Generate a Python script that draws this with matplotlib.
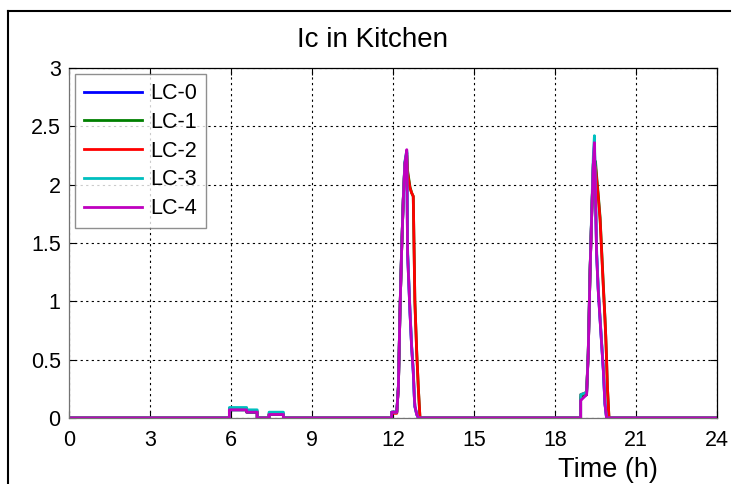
import numpy as np
import matplotlib.pyplot as plt
from matplotlib.lines import Line2D

plt.rcParams['font.family'] = ['Liberation Sans', 'DejaVu Sans']

# Tiempo (h) - puntos de quiebre comunes a todas las series
t = [0, 5.94, 5.94, 6.58, 6.58, 6.97, 6.97, 7.41, 7.41, 7.94, 7.94,
     11.95, 11.95, 12.14, 12.2, 12.26, 12.32, 12.38, 12.44, 12.51, 12.54,
     12.63, 12.69, 12.75, 12.79, 12.81, 12.88, 12.94, 13.0,
     18.95, 18.95, 19.17, 19.23, 19.3, 19.36, 19.42, 19.46, 19.5, 19.54,
     19.6, 19.67, 19.79, 19.85, 19.88, 19.91, 19.94, 20.0, 24]

lc0 = [0, 0, .07, .07, .05, .05, 0, 0, .03, .03, 0,
       0, .05, .05, .27, .93, 1.44, 1.87, 2.18, 2.28, 1.41,
       .9, .61, .4, .18, .1, .03, 0, 0,
       0, .17, .2, .55, 1.27, 1.75, 2.18, 2.33, 1.9, 1.41,
       1.1, .84, .41, .12, .06, 0, 0, 0, 0]
lc1 = [0, 0, .07, .07, .05, .05, 0, 0, .03, .03, 0,
       0, .05, .05, .27, .93, 1.44, 1.87, 2.18, 2.27, 2.12,
       1.98, 1.93, 1.9, 1.32, 1.0, .56, .25, 0,
       0, .18, .2, .55, 1.27, 1.75, 2.18, 2.2, 2.2, 2.08,
       1.92, 1.72, 1.14, .86, .7, .5, .27, 0, 0]
lc2 = [0, 0, .08, .08, .06, .06, 0, 0, .04, .04, 0,
       0, .04, .04, .27, .93, 1.44, 1.87, 2.18, 2.25, 2.1,
       1.97, 1.93, 1.9, 1.3, 1.0, .55, .25, 0,
       0, .2, .22, .55, 1.27, 1.75, 2.18, 2.15, 2.15, 2.05,
       1.9, 1.7, 1.12, .85, .7, .5, .27, 0, 0]
lc3 = [0, 0, .09, .09, .07, .07, 0, 0, .05, .05, 0,
       0, .05, .05, .28, .93, 1.45, 1.88, 2.2, 2.29, 1.45,
       .92, .62, .4, .18, .1, .03, 0, 0,
       0, .2, .22, .56, 1.28, 1.78, 2.25, 2.42, 1.95, 1.45,
       1.12, .86, .42, .13, .06, 0, 0, 0, 0]
lc4 = [0, 0, .07, .07, .05, .05, 0, 0, .03, .03, 0,
       0, .05, .05, .27, .93, 1.44, 1.87, 2.18, 2.3, 1.41,
       .9, .61, .4, .18, .1, .03, 0, 0,
       0, .15, .2, .55, 1.27, 1.75, 2.18, 2.36, 1.9, 1.41,
       1.1, .84, .41, .12, .06, 0, 0, 0, 0]

series = [lc0, lc1, lc2, lc3, lc4]
labels = ['LC-0', 'LC-1', 'LC-2', 'LC-3', 'LC-4']
colores = [(0, 0, 1), (0, 0.5, 0), (1, 0, 0), (0, 0.75, 0.75), (0.75, 0, 0.75)]

xticks = [0, 3, 6, 9, 12, 15, 18, 21, 24]
yticks = [0, 0.5, 1, 1.5, 2, 2.5, 3]
ytick_labels = ['0', '0.5', '1', '1.5', '2', '2.5', '3']

fig = plt.figure(figsize=(7.47, 4.84), dpi=100)
ax = fig.add_axes([69 / 747, 1 - 418 / 484, 648 / 747, 350 / 484])

for y, lab, c in zip(series, labels, colores):
    ax.plot(t, y, color=c, linewidth=2, label=lab)

ax.set_xlim(0, 24)
ax.set_ylim(0, 3)
ax.set_xticks(xticks)
ax.set_yticks(yticks)
ax.set_yticklabels(ytick_labels)
ax.tick_params(direction='in', length=5, labelsize=15.5, top=True, right=True)
ax.tick_params(axis='x', pad=9)
ax.tick_params(axis='y', pad=6)
ax.grid(True, color='black', linestyle=(0, (2, 3)), linewidth=0.8)
for nombre, s in ax.spines.items():
    s.set_color('black' if nombre in ('top', 'right') else '0.45')
    s.set_linewidth(0.9)

ax.set_title('Ic in Kitchen', fontsize=20, x=0.469, pad=15)
fig.text(608 / 747, 1 - 477 / 484, 'Time (h)', fontsize=19.5,
         ha='center', va='baseline')

leg = ax.legend(loc='upper left', fontsize=15.5, fancybox=False, frameon=True,
                handlelength=2.7, labelspacing=0.36, borderpad=0.42,
                handletextpad=0.38, borderaxespad=0.28, edgecolor='0.45')
leg.get_frame().set_linewidth(1)

# Marco exterior
fig.add_artist(Line2D([8 / 747, 730 / 747], [1 - 11 / 484, 1 - 11 / 484],
                      transform=fig.transFigure, color='black', linewidth=1.5))
fig.add_artist(Line2D([8 / 747, 8 / 747], [1 - 11 / 484, 0],
                      transform=fig.transFigure, color='black', linewidth=1.5))

fig.savefig('out.png', dpi=100)
